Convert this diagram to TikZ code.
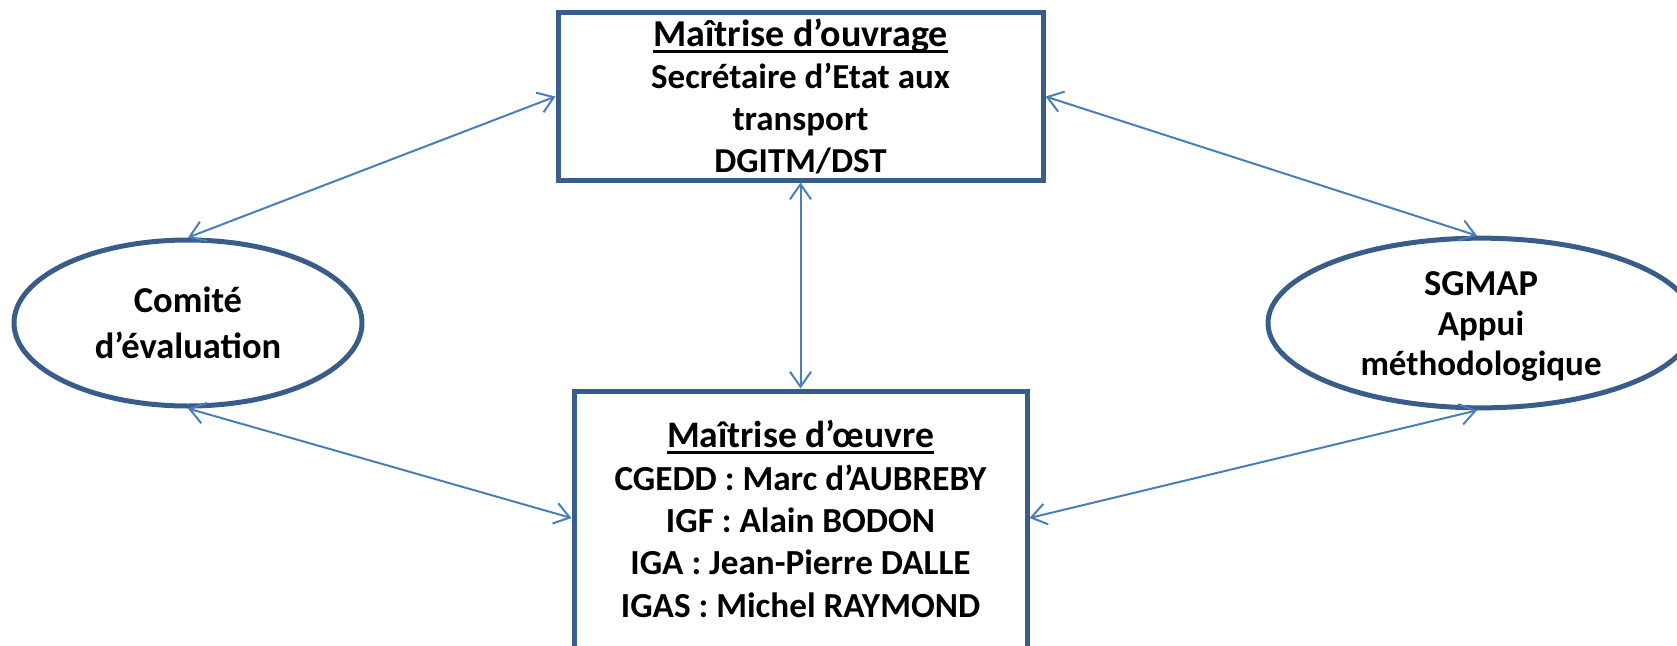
\documentclass[tikz,border=0pt]{standalone}
\usepackage{fontspec}
\setmainfont{Carlito}
\usetikzlibrary{shapes.geometric,arrows.meta,calc}
\definecolor{boxblue}{HTML}{385D8A}
\definecolor{linkblue}{HTML}{4A7EBB}
\newcommand\myul[1]{\setbox0\hbox{#1}\rlap{\rule[-6pt]{\wd0}{3pt}}\box0}
\tikzset{
  box/.style={draw=boxblue, line width=5pt, rectangle, align=center, inner sep=0pt},
  oval/.style={draw=boxblue, line width=5pt, ellipse, align=center, inner sep=0pt},
  link/.style={draw=linkblue, line width=2pt,
    {Straight Barb[length=15pt,width=21pt]}-{Straight Barb[length=15pt,width=21pt]}}
}
\begin{document}
\begin{tikzpicture}[x=1pt,y=-1pt]
\useasboundingbox (0,0) rectangle (1677,645);
\clip (0,0) rectangle (1677,645);
\node[box, minimum width=485pt, minimum height=165pt, text height=159.1pt, text depth=8pt,
      font=\fontsize{35}{41.7}\selectfont\bfseries] (tb) at (800.5,96.5)
  {{\fontsize{38}{41.7}\selectfont\myul{Maîtrise d’ouvrage}}\\
   Secrétaire d’Etat aux\\ transport\\ DGITM/DST};
\node[box, minimum width=453pt, minimum height=266pt, text height=196.2pt, text depth=10pt,
      font=\fontsize{35.2}{42.3}\selectfont\bfseries] (bb) at (800.5,524)
  {{\fontsize{37.5}{42.3}\selectfont\myul{Maîtrise d’œuvre}}\\
   CGEDD : Marc d’AUBREBY\\ IGF : Alain BODON\\
   IGA : Jean-Pierre DALLE\\ IGAS : Michel RAYMOND};
\node[oval, minimum width=348pt, minimum height=166pt, text height=78pt, text depth=8pt,
      font=\fontsize{36.5}{46}\selectfont\bfseries] (le) at (188,323)
  {Comité\\ d’évaluation};
\node[oval, minimum width=426pt, minimum height=166pt, text height=112pt, text depth=8pt,
      font=\fontsize{35}{40}\selectfont\bfseries] (re) at (1481,323)
  {{\fontsize{36.5}{40}\selectfont SGMAP}\\ Appui\\ méthodologique};
\draw[link] (tb.west) -- (le.north);
\draw[link] (tb.east) -- ($(re.north)+(-4,0)$);
\draw[link] (tb.south) -- (bb.north);
\draw[link] (le.south) -- ($(bb.west)+(0,-6)$);
\draw[link] ($(bb.east)+(0,-6)$) -- ($(re.south)+(-4,0)$);
\end{tikzpicture}
\end{document}
